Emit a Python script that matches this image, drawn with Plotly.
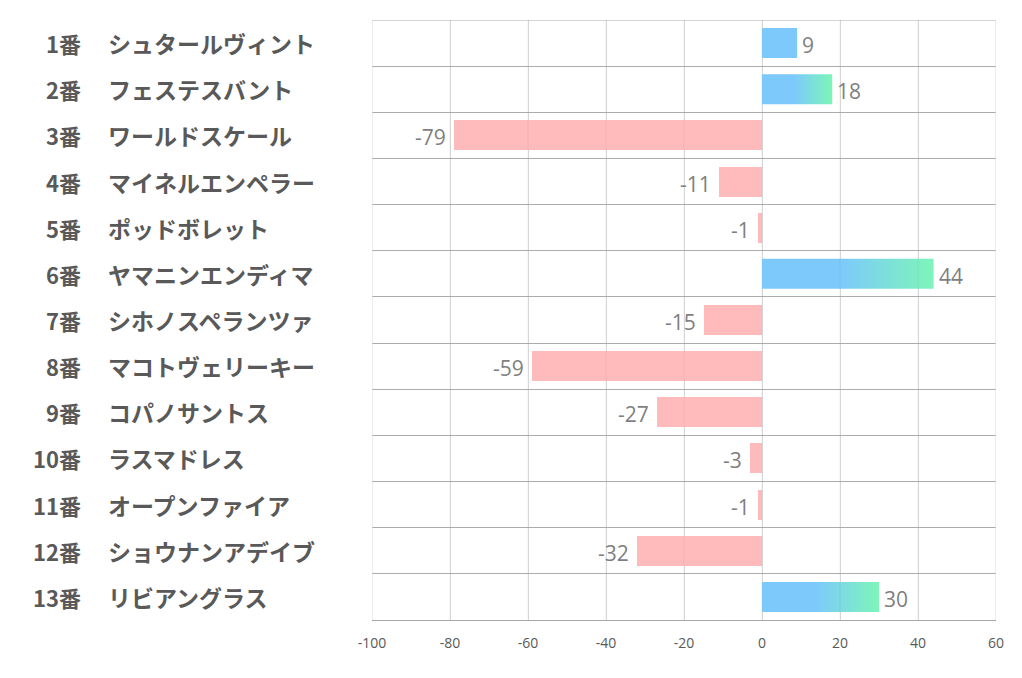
import plotly.graph_objects as go

numbers = ["1番", "2番", "3番", "4番", "5番", "6番", "7番", "8番", "9番", "10番", "11番", "12番", "13番"]
names = ["シュタールヴィント", "フェステスバント", "ワールドスケール", "マイネルエンペラー",
         "ポッドボレット", "ヤマニンエンディマ", "シホノスペランツァ", "マコトヴェリーキー",
         "コパノサントス", "ラスマドレス", "オープンファイア", "ショウナンアデイブ", "リビアングラス"]
values = [9, 18, -79, -11, -1, 44, -15, -59, -27, -3, -1, -32, 30]
x_ticks = [-100, -80, -60, -40, -20, 0, 20, 40, 60]

BLUE = "#7DC9FC"
GREEN = "#7DF5B9"
PINK = "#FFBBBC"
HALF = 0.325
X0, X1 = -100, 60

fig = go.Figure()

idx = list(range(len(values)))
neg_y = [i for i in idx if values[i] < 0]
neg_x = [values[i] for i in idx if values[i] < 0]
fig.add_trace(go.Bar(x=neg_x, y=neg_y, orientation="h", width=2 * HALF,
                     marker=dict(color=PINK, line=dict(width=0)), showlegend=False,
                     hoverinfo="x"))

for i in idx:
    v = values[i]
    if v <= 0:
        continue
    xs = [0, v, v, 0, 0]
    ys = [i - HALF, i - HALF, i + HALF, i + HALF, i - HALF]
    if v < 10:
        fig.add_trace(go.Scatter(x=xs, y=ys, mode="lines", fill="toself",
                                 fillcolor=BLUE, line=dict(width=0), showlegend=False,
                                 hoverinfo="skip"))
    else:
        fig.add_trace(go.Scatter(x=xs, y=ys, mode="lines", fill="toself",
                                 fillgradient=dict(type="horizontal", start=0, stop=v,
                                                   colorscale=[[0, BLUE], [0.45, BLUE], [1, GREEN]]),
                                 line=dict(width=0), showlegend=False, hoverinfo="skip"))

annotations = []
for i in idx:
    v = values[i]
    annotations.append(dict(x=v, y=i, xref="x", yref="y", text=str(v), showarrow=False,
                            xanchor="left" if v > 0 else "right",
                            xshift=3 if v > 0 else -6, yshift=-2,
                            font=dict(family="Open Sans, Noto Sans", size=21, color="#7F7F7F")))
    annotations.append(dict(x=(83 - 372) / 624, y=i, xref="paper", yref="y", text=numbers[i],
                            showarrow=False, xanchor="right",
                            font=dict(family="Noto Sans CJK JP", size=22, color="#595959", weight="bold")))
    annotations.append(dict(x=(106 - 372) / 624, y=i, xref="paper", yref="y", text=names[i],
                            showarrow=False, xanchor="left",
                            font=dict(family="Noto Sans CJK JP", size=23, color="#595959", weight="bold")))

shapes = [
    dict(type="line", xref="paper", yref="y", x0=0, x1=1, y0=-0.5, y1=-0.5,
         line=dict(color="#ABABAB", width=1)),
    dict(type="line", xref="x", yref="paper", x0=X0, x1=X0, y0=0, y1=1,
         line=dict(color="#D9D9D9", width=1)),
    dict(type="line", xref="x", yref="paper", x0=X1, x1=X1, y0=0, y1=1,
         line=dict(color="#D9D9D9", width=1)),
]
for t in x_ticks[1:-1]:
    shapes.append(dict(type="line", xref="x", yref="paper", x0=t, x1=t, y0=0, y1=1,
                       layer="above", line=dict(color="rgba(120,120,120,0.12)", width=1)))

fig.update_layout(
    width=1014, height=670,
    margin=dict(l=364, r=26, t=12, b=58),
    paper_bgcolor="white", plot_bgcolor="white",
    annotations=annotations,
    shapes=shapes,
    bargap=0,
    xaxis=dict(range=[X0, X1], tickvals=x_ticks, ticktext=[str(t) for t in x_ticks],
               showgrid=True, gridcolor="#DCDCDC", gridwidth=1, zeroline=False,
               showline=True, linecolor="#A6A6A6", linewidth=1, ticks="",
               ticklabelstandoff=10,
               tickfont=dict(family="Open Sans, Noto Sans", size=14, color="#595959")),
    yaxis=dict(range=[len(values) - 0.5, -0.5], tickvals=[i - 0.5 for i in range(len(values) + 1)],
               showticklabels=False, showgrid=True, gridcolor="#ABABAB", gridwidth=1,
               zeroline=False, showline=False, ticks=""),
)

fig.write_html("out.html")
